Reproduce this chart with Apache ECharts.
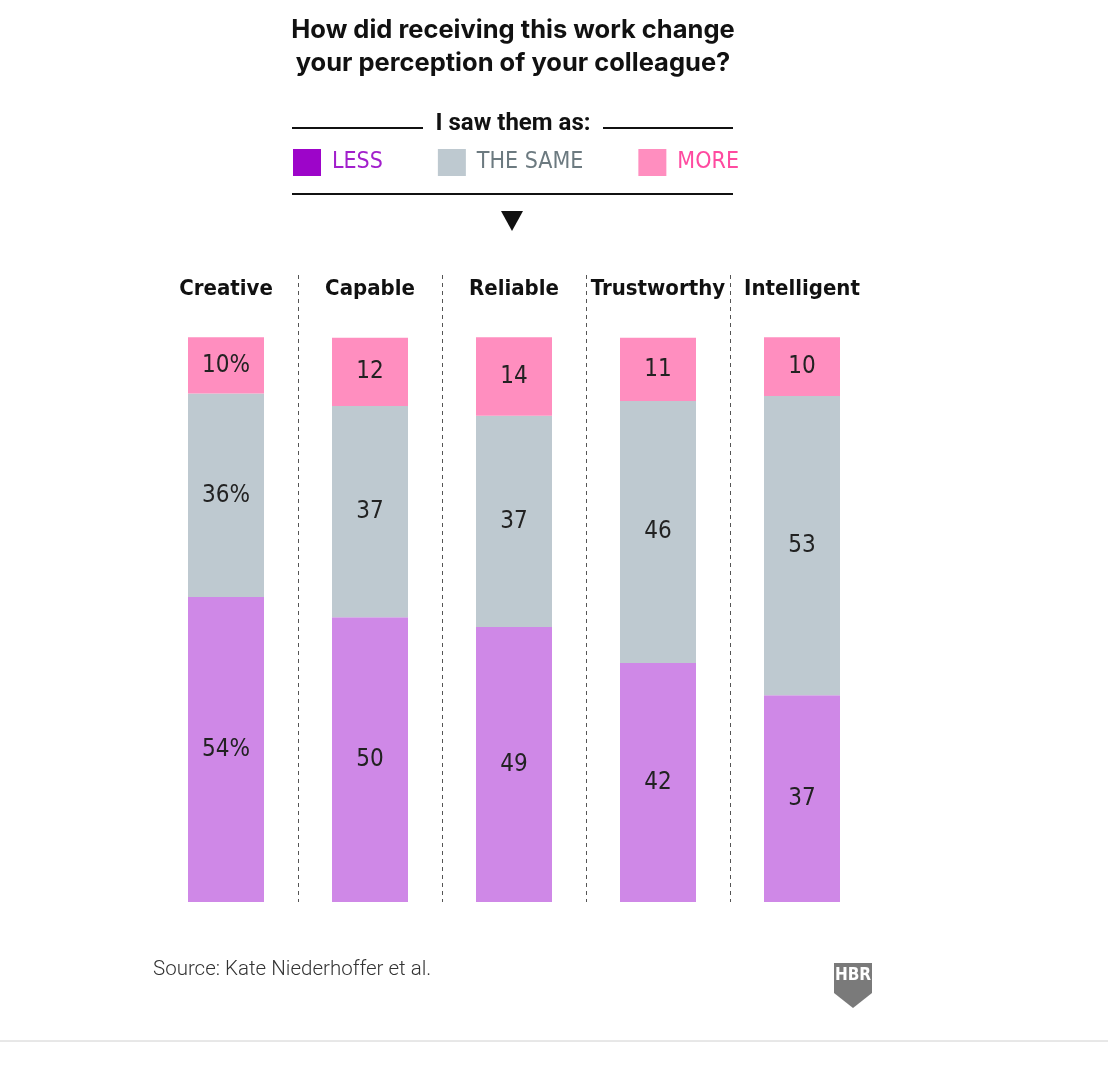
<!DOCTYPE html>
<html>
<head>
<meta charset="utf-8">
<script src="https://cdn.jsdelivr.net/npm/echarts@6/dist/echarts.min.js"></script>
<style>
html,body{margin:0;padding:0;background:#fff;}
#chart{width:1108px;height:1066px;}
</style>
</head>
<body>
<div id="chart"></div>
<script>
// Data
const categories = ['Creative', 'Capable', 'Reliable', 'Trustworthy', 'Intelligent'];
const lessValues = [54, 50.4, 48.7, 42.3, 36.6];
const sameValues = [36, 37.4, 37.4, 46.4, 53.0];
const moreValues = [10, 12.1, 13.9, 11.2, 10.4];
const seriesNames = ['LESS', 'THE SAME', 'MORE'];

const NARROW = '"DejaVu Sans Condensed", "Roboto", sans-serif';
const chart = echarts.init(document.getElementById('chart'));

function lbl(p) {
  const v = Math.round(p.value);
  return p.dataIndex === 0 ? v + '%' : String(v);
}
const labelCfg = {show: true, position: 'inside', formatter: lbl, color: '#222', fontFamily: NARROW, fontSize: 24};

chart.setOption({
  backgroundColor: '#fff',
  animation: false,
  grid: {left: 154, right: 234, top: 275, bottom: 164},
  legend: {
    left: 288, top: 144, itemWidth: 28, itemHeight: 27, itemGap: 55,
    icon: 'rect', selectedMode: false,
    textStyle: {fontFamily: NARROW, fontSize: 23, padding: [0, 0, 0, 6]},
    data: [
      {name: 'LESS', itemStyle: {color: '#9d05c9'}, textStyle: {color: '#a21fcc'}},
      {name: 'THE SAME', itemStyle: {color: '#bec9d0'}, textStyle: {color: '#6c7a80'}},
      {name: 'MORE', itemStyle: {color: '#ff8ebf'}, textStyle: {color: '#ff4aa0'}}
    ]
  },
  xAxis: {
    type: 'category', data: categories, position: 'top',
    axisLine: {show: false}, axisTick: {show: false},
    axisLabel: {interval: 0, inside: true, margin: 3, color: '#111', fontFamily: NARROW, fontWeight: 'bold', fontSize: 22, verticalAlign: 'top'},
    splitLine: {show: true, interval: 0, lineStyle: {type: [4, 4], width: 1, color: ['rgba(0,0,0,0)', '#555', '#555', '#555', '#555', 'rgba(0,0,0,0)']}}
  },
  yAxis: {type: 'value', min: 0, max: 111, show: false, splitLine: {show: false}},
  series: [
    {name: seriesNames[0], type: 'bar', stack: 'a', data: lessValues, barWidth: 76, itemStyle: {color: '#cf88e7'}, label: labelCfg},
    {name: seriesNames[1], type: 'bar', stack: 'a', data: sameValues, barWidth: 76, itemStyle: {color: '#bec9d0'}, label: labelCfg},
    {name: seriesNames[2], type: 'bar', stack: 'a', data: moreValues, barWidth: 76, itemStyle: {color: '#ff8ebf'}, label: labelCfg}
  ],
  graphic: [
    {type: 'text', x: 513, y: 14, style: {text: 'How did receiving this work change\nyour perception of your colleague?', fill: '#111', font: 'bold 25.5px "Inter", "Roboto", sans-serif', lineHeight: 33, textAlign: 'center'}},
    {type: 'text', x: 513, y: 112, style: {text: 'I saw them as:', fill: '#111', font: 'bold 24px "Roboto", sans-serif', textAlign: 'center'}},
    {type: 'line', shape: {x1: 292, y1: 128, x2: 423, y2: 128}, style: {stroke: '#111', lineWidth: 2}},
    {type: 'line', shape: {x1: 603, y1: 128, x2: 733, y2: 128}, style: {stroke: '#111', lineWidth: 2}},
    {type: 'line', shape: {x1: 292, y1: 194, x2: 733, y2: 194}, style: {stroke: '#111', lineWidth: 2}},
    {type: 'polygon', shape: {points: [[501, 211], [523, 211], [512, 231]]}, style: {fill: '#111'}},
    {type: 'text', x: 153, y: 959, style: {text: 'Source: Kate Niederhoffer et al.', fill: '#333', font: '300 20.5px "Roboto", sans-serif'}},
    {type: 'polygon', shape: {points: [[834, 963], [872, 963], [872, 993], [853, 1008], [834, 993]]}, style: {fill: '#7a7a7a'}},
    {type: 'text', x: 853, y: 967, style: {text: 'HBR', fill: '#fff', font: 'bold 17px ' + NARROW, textAlign: 'center'}},
    {type: 'line', shape: {x1: 0, y1: 1041, x2: 1108, y2: 1041}, style: {stroke: '#d0d0d0', lineWidth: 1}}
  ]
});
</script>
</body>
</html>
